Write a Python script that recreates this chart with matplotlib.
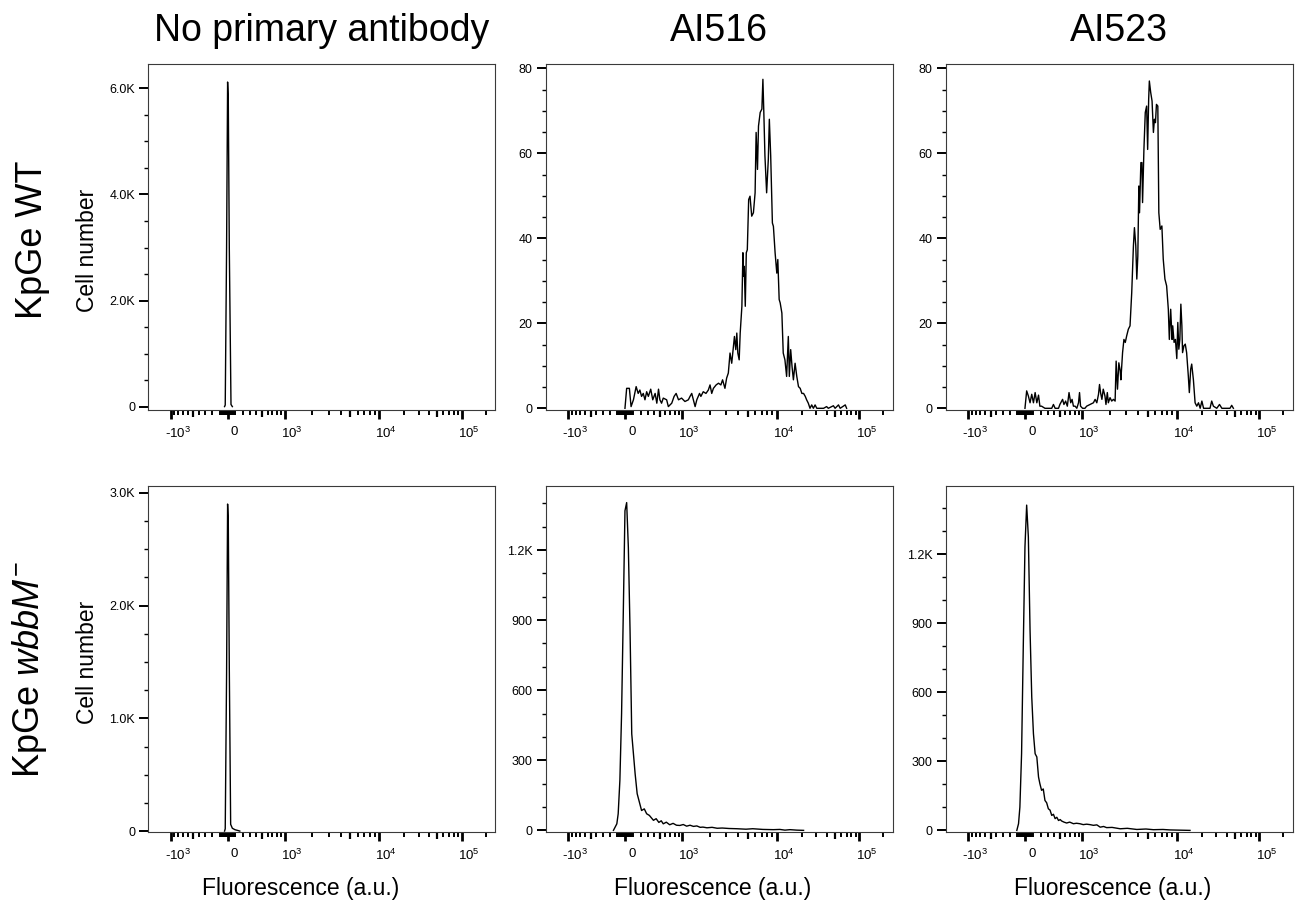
import numpy as np
import matplotlib
matplotlib.use("Agg")
import matplotlib.pyplot as plt
import matplotlib.transforms as mtransforms
from matplotlib.ticker import MultipleLocator, FixedLocator, FuncFormatter

plt.rcParams["font.family"] = ["Liberation Sans", "DejaVu Sans"]
plt.rcParams["mathtext.fontset"] = "custom"
plt.rcParams["mathtext.rm"] = "Liberation Sans"
plt.rcParams["mathtext.it"] = "Liberation Sans:italic"
plt.rcParams["mathtext.bf"] = "Liberation Sans:bold"

# ---- histogram data: display channel (0..1023) and cell counts ----
wt_noab_ch = [225, 227, 231, 234, 236, 239, 244, 248]
wt_noab_n = [0, 30, 3000, 6120, 5800, 3000, 40, 0]

wt_ai516_ch = [233, 238, 246, 251, 258, 266, 272, 277, 282, 287, 292, 297, 302, 309, 315,
               322, 327, 332, 336, 341, 346, 356, 361, 371, 378, 384, 391, 400, 410, 420,
               425, 430, 440, 445, 453, 457, 464, 472, 479, 484, 489, 494, 502, 509, 516,
               521, 528, 533, 538, 543, 548, 553, 556, 560, 563, 566, 570, 573, 578, 581,
               583, 585, 588, 591, 594, 598, 602, 607, 612, 617, 620, 624, 627, 632, 637,
               640, 643, 646, 651, 656, 659, 663, 668, 671, 676, 681, 684, 688, 691, 696,
               700, 705, 710, 715, 718, 722, 726, 730, 735, 740, 745, 750, 755, 760, 765,
               769, 774, 779, 784, 789, 794, 799, 809, 819, 828, 833, 848, 853, 863, 868,
               883, 887]
wt_ai516_n = [0, 4.7, 4.7, 0.4, 2.0, 5.1, 3.5, 4.3, 2.8, 3.5, 2.0, 3.9, 2.8, 4.5, 2.0,
              3.5, 1.2, 4.5, 2.0, 1.2, 2.4, 2.0, 0.4, 1.2, 2.8, 3.5, 2.0, 2.4, 1.6, 2.0,
              2.8, 3.5, 0.4, 2.0, 3.5, 2.8, 3.9, 3.5, 4.3, 5.5, 3.5, 4.7, 5.5, 5.9, 5.5,
              6.7, 4.7, 7.1, 8.3, 13.0, 10.6, 14.5, 16.9, 13.8, 17.7, 13.0, 11.4, 17.7, 24.0, 36.6,
              31.1, 33.4, 24.0, 36.6, 37.3, 49.1, 49.9, 45.2, 46.0, 50.7, 64.9, 56.2, 66.4, 69.6, 70.4,
              77.4, 68.8, 59.4, 50.7, 58.6, 68.0, 59.4, 43.6, 42.8, 36.6, 31.8, 35.0, 25.6, 24.8, 22.4,
              13.0, 11.4, 7.5, 16.9, 7.5, 13.8, 9.8, 6.7, 10.6, 7.5, 5.1, 4.7, 3.5, 3.5, 2.8,
              2.0, 1.2, 0, 0.8, 0, 0.8, 0, 0, 0, 0.4, 0, 0.6, 0, 0.8, 0,
              0.8, 0]

wt_ai523_ch = [233, 238, 243, 248, 253, 258, 263, 268, 273, 277, 282, 292, 312, 317, 322,
               332, 336, 344, 348, 353, 358, 363, 368, 372, 376, 381, 386, 391, 394, 397,
               403, 410, 415, 425, 435, 440, 445, 450, 453, 456, 460, 464, 469, 472, 476,
               479, 484, 489, 494, 499, 502, 506, 510, 514, 516, 521, 525, 529, 533, 538,
               543, 548, 553, 556, 560, 563, 566, 569, 571, 575, 578, 580, 584, 588, 592,
               595, 598, 600, 604, 608, 612, 615, 618, 621, 625, 628, 632, 637, 641, 646,
               651, 656, 659, 663, 667, 669, 673, 677, 681, 684, 687, 690, 693, 696, 698,
               702, 706, 710, 715, 718, 722, 725, 730, 735, 740, 745, 750, 755, 760, 779,
               784, 789, 799, 807, 814, 838, 843, 848]
wt_ai523_n = [0, 4.1, 2.9, 1.3, 3.3, 1.3, 3.7, 1.3, 3.1, 0.5, 0.5, 0, 0, 0.9, 0,
              0, 0.9, 2.1, 0.9, 1.7, 0.5, 3.7, 1.3, 2.1, 0.5, 0.5, 0, 1.3, 3.7, 0.5,
              0, 0, 0.5, 0.9, 1.3, 2.1, 1.3, 3.3, 5.6, 3.7, 2.1, 4.5, 2.9, 0.9, 3.7,
              1.3, 2.5, 1.7, 2.1, 1.7, 11.1, 4.5, 10.7, 8.8, 6.7, 13.1, 16.2, 15.5, 17.0, 18.6,
              19.4, 27.2, 38.2, 42.5, 38.2, 30.4, 35.8, 52.3, 46.0, 57.8, 57.8, 48.4, 60.9, 69.6, 71.1,
              60.9, 72.7, 77.0, 74.3, 72.3, 64.9, 68.0, 67.2, 71.5, 71.1, 46.0, 42.1, 42.9, 35.1, 30.4,
              28.8, 23.3, 16.2, 23.3, 16.2, 19.4, 15.5, 16.2, 11.7, 20.2, 13.9, 16.2, 24.5, 19.4, 13.1,
              14.7, 15.1, 13.1, 7.6, 3.7, 9.2, 10.4, 6.7, 1.3, 0.5, 1.3, 0, 1.7, 0, 0,
              1.7, 0.5, 0, 0.9, 0, 0, 0.7, 0]

ko_noab_ch = [225, 227, 231, 234, 236, 239, 243, 248, 256, 266, 270]
ko_noab_n = [0, 20, 1400, 2900, 2750, 1450, 60, 25, 12, 4, 0]

ko_ai516_ch = [199, 209, 213, 218, 223, 228, 233, 238, 243, 248, 253, 263, 269, 282, 290,
               297, 305, 317, 325, 333, 340, 346, 355, 365, 375, 385, 395, 405, 415, 425,
               435, 445, 455, 463, 475, 490, 505, 520, 540, 563, 590, 610, 640, 671, 690,
               705, 720, 740, 760]
ko_ai516_n = [0, 28, 71, 214, 499, 926, 1368, 1403, 1211, 855, 413, 242, 157, 85, 92,
              71, 64, 43, 50, 34, 41, 28, 35, 24, 30, 22, 21, 25, 18, 22,
              17, 19, 13, 14, 11, 13, 9, 10, 8, 7, 5, 7, 4, 3, 4,
              1, 3, 1, 0]

ko_ai523_ch = [209, 214, 218, 223, 228, 233, 238, 243, 248, 253, 258, 263, 268, 273, 277,
               282, 287, 292, 297, 302, 307, 312, 317, 322, 327, 332, 337, 341, 348, 356,
               365, 376, 385, 395, 405, 415, 425, 435, 445, 455, 465, 474, 490, 514, 535,
               563, 590, 612, 640, 661, 690, 720]
ko_ai523_n = [0, 29, 101, 333, 797, 1232, 1413, 1275, 870, 580, 420, 333, 319, 232, 203,
              174, 180, 130, 120, 94, 88, 65, 70, 51, 57, 43, 47, 41, 36, 32,
              36, 29, 31, 29, 25, 27, 25, 22, 24, 14, 17, 12, 13, 7, 9,
              4, 6, 3, 4, 2, 1, 0]

col_titles = ["No primary antibody", "AI516", "AI523"]
row_titles = ["KpGe WT", r"KpGe $\mathit{wbbM}^{-}$"]

x_major = [-1000, 0, 1000, 1e4, 1e5]
x_major_labels = [r"-$10^{3}$", "0", r"$10^{3}$", r"$10^{4}$", r"$10^{5}$"]
x_medium = [-500, 500, 5000, 5e4]
x_minor = ([-v for v in range(100, 1000, 100) if v != 500] + [-v for v in range(10, 100, 10)]
           + list(range(10, 100, 10)) + [v for v in range(100, 1000, 100) if v != 500]
           + [v for v in range(2000, 10000, 1000) if v != 5000]
           + [v for v in range(20000, 100000, 10000) if v != 50000] + [200000])

# ---- biexponential-like display scale: fluorescence <-> channel ----
C = 500.0
FL_KNOTS = np.array([-1800.0, -1000.0, 0.0, 1000.0, 1e4, 1e5, 262144.0])
CH_KNOTS = np.array([0.0, 66.0, 234.0, 402.0, 681.0, 925.0, 1023.0])
U = np.arcsinh(FL_KNOTS / C)
s0 = (CH_KNOTS[1] - CH_KNOTS[0]) / (U[1] - U[0])
s1 = (CH_KNOTS[-1] - CH_KNOTS[-2]) / (U[-1] - U[-2])
U_EXT = np.concatenate([[U[0] - 20], U, [U[-1] + 20]])
CH_EXT = np.concatenate([[CH_KNOTS[0] - 20 * s0], CH_KNOTS, [CH_KNOTS[-1] + 20 * s1]])


def fl2ch(x):
    return np.interp(np.arcsinh(np.asarray(x, float) / C), U_EXT, CH_EXT)


def ch2fl(c):
    return C * np.sinh(np.interp(np.asarray(c, float), CH_EXT, U_EXT))


def kfmt(v, pos):
    if abs(v) < 1e-9:
        return "0"
    if v >= 1000:
        return f"{v / 1000:.1f}K"
    return f"{v:g}"


W, H = 1297, 905
fig = plt.figure(figsize=(W / 100, H / 100), dpi=100)

col_left = [148.3, 546, 946]
ax_w = 346.7
row_top = [64, 486]
ax_h = 346

panels = [
    (0, 0, wt_noab_ch, wt_noab_n, (-64, 6460), 2000, 500),
    (0, 1, wt_ai516_ch, wt_ai516_n, (-0.4, 81), 20, 5),
    (0, 2, wt_ai523_ch, wt_ai523_n, (-0.4, 81), 20, 5),
    (1, 0, ko_noab_ch, ko_noab_n, (-8, 3060), 1000, 250),
    (1, 1, ko_ai516_ch, ko_ai516_n, (-7, 1474), 300, 100),
    (1, 2, ko_ai523_ch, ko_ai523_n, (-7, 1496), 300, 100),
]

label_shift = mtransforms.ScaledTranslation(7 / 100, 0, fig.dpi_scale_trans)

for r, c, ch, n, ylim, ymaj, ymin in panels:
    ax = fig.add_axes([col_left[c] / W, 1 - (row_top[r] + ax_h) / H, ax_w / W, ax_h / H])
    ax.set_xscale("function", functions=(fl2ch, ch2fl))
    ax.plot(ch2fl(ch), n, color="black", lw=1.0)
    ax.set_xlim(FL_KNOTS[0], FL_KNOTS[-1])
    ax.set_ylim(*ylim)

    ax.set_xticks(x_major + x_medium, labels=x_major_labels + [""] * len(x_medium))
    ax.xaxis.set_minor_locator(FixedLocator(x_minor))
    ax.yaxis.set_major_locator(MultipleLocator(ymaj))
    ax.yaxis.set_minor_locator(MultipleLocator(ymin))
    ax.yaxis.set_major_formatter(FuncFormatter(kfmt))

    ax.tick_params(axis="x", which="major", length=6.5, width=2.0, labelsize=9.5, pad=5)
    ax.tick_params(axis="x", which="minor", length=3.6, width=1.4)
    ax.tick_params(axis="y", which="major", length=6.5, width=1.4, labelsize=9, pad=3)
    ax.tick_params(axis="y", which="minor", length=3.2, width=1.0)

    for loc, t in zip(ax.xaxis.get_majorticklocs(), ax.xaxis.get_major_ticks()):
        if loc in x_medium:
            t.tick1line.set_markersize(5.0)
            t.tick1line.set_markeredgewidth(1.6)
    for lab in ax.get_xticklabels():
        lab.set_transform(lab.get_transform() + label_shift)

    for sp in ax.spines.values():
        sp.set_color("#3a3a3a")
        sp.set_linewidth(0.8)

# column titles
for c, t in enumerate(col_titles):
    fig.text((col_left[c] + ax_w / 2) / W, 1 - 31 / H, t, ha="center", va="center", fontsize=27)

# row titles
fig.text(33 / W, 1 - 240 / H, row_titles[0], rotation=90, ha="center", va="center", fontsize=26)
fig.text(30 / W, 1 - 670 / H, row_titles[1], rotation=90, ha="center", va="center", fontsize=26)

# y labels
fig.text(87 / W, 1 - 250 / H, "Cell number", rotation=90, ha="center", va="center", fontsize=16.5)
fig.text(87 / W, 1 - 662 / H, "Cell number", rotation=90, ha="center", va="center", fontsize=16.5)

# x labels
for xc in [301, 713, 1113]:
    fig.text(xc / W, 1 - 888 / H, "Fluorescence (a.u.)", ha="center", va="center", fontsize=16.5)

fig.savefig("out.png", dpi=100)
